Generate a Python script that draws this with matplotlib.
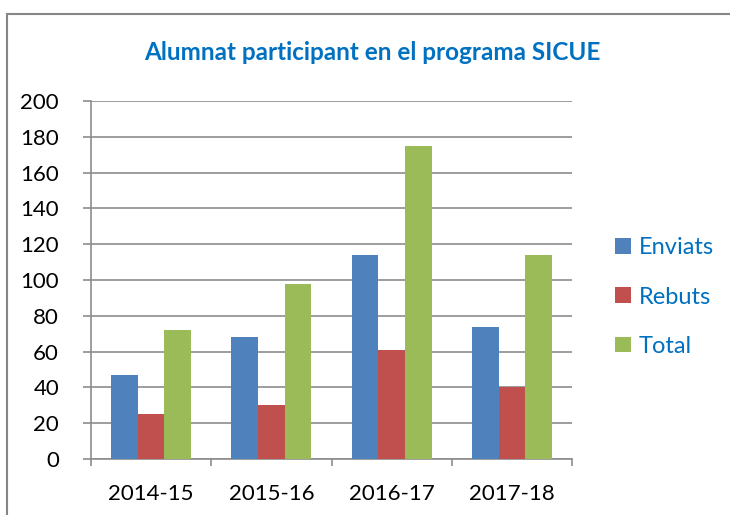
import matplotlib
matplotlib.use("Agg")
import matplotlib.pyplot as plt
import numpy as np
from matplotlib.patches import Rectangle

categories = ["2014-15", "2015-16", "2016-17", "2017-18"]
enviats = [47, 68, 114, 74]
rebuts = [25, 30, 61, 40]
total = [72, 98, 175, 114]
series_names = ["Enviats", "Rebuts", "Total"]
colors = ["#4F81BD", "#C0504D", "#9BBB59"]
title = "Alumnat participant en el programa SICUE"

plt.rcParams['font.family'] = ['Lato', 'DejaVu Sans']

W, H = 730, 515
fig = plt.figure(figsize=(W/100, H/100), dpi=100)
fig.patch.set_facecolor("white")

# outer chart border
fig.patches.append(Rectangle((7/W, -0.1), 1.2, 1 - 14/H + 0.1, transform=fig.transFigure,
                             fill=False, edgecolor="#868686", linewidth=1.5))

ax = fig.add_axes([91/W, 1 - 459/H, 481/W, 358/H])
x = np.arange(len(categories))
bw = 0.222
for i, (vals, name, c) in enumerate(zip([enviats, rebuts, total], series_names, colors)):
    ax.bar(x + (i - 1) * bw, vals, width=bw, color=c, label=name, zorder=3)

ax.set_xlim(-0.5, len(categories) - 0.5)
ax.set_ylim(0, 200)
ax.set_yticks(np.arange(0, 201, 20))
ax.yaxis.grid(True, color="#8C8C8C", linewidth=1.2, zorder=0)
ax.set_axisbelow(True)
ax.set_xticks(x)
ax.set_xticklabels(categories)
ax.set_xticks(np.arange(-0.5, len(categories), 1), minor=True)
ax.tick_params(axis="x", which="major", length=0, pad=18, labelsize=16)
ax.tick_params(axis="x", which="minor", length=5, color="#8C8C8C", width=1.2)
ax.tick_params(axis="y", length=6, color="#8C8C8C", width=1.2, labelsize=16, pad=17)
for s in ["top", "right"]:
    ax.spines[s].set_visible(False)
for s in ["left", "bottom"]:
    ax.spines[s].set_color("#8C8C8C")
    ax.spines[s].set_linewidth(1.2)

fig.text(372/W, 1 - 52/H, title, ha="center", va="center", color="#0070C0",
         fontsize=17.5, fontweight="bold")

leg = ax.legend(loc="center left", bbox_to_anchor=(594/W, 1 - 297/H), bbox_transform=fig.transFigure,
                frameon=False, fontsize=17, handlelength=0.65, handleheight=0.65,
                handletextpad=0.35, labelspacing=1.2)
for t in leg.get_texts():
    t.set_color("#0070C0")

fig.savefig("out.png", dpi=100)
